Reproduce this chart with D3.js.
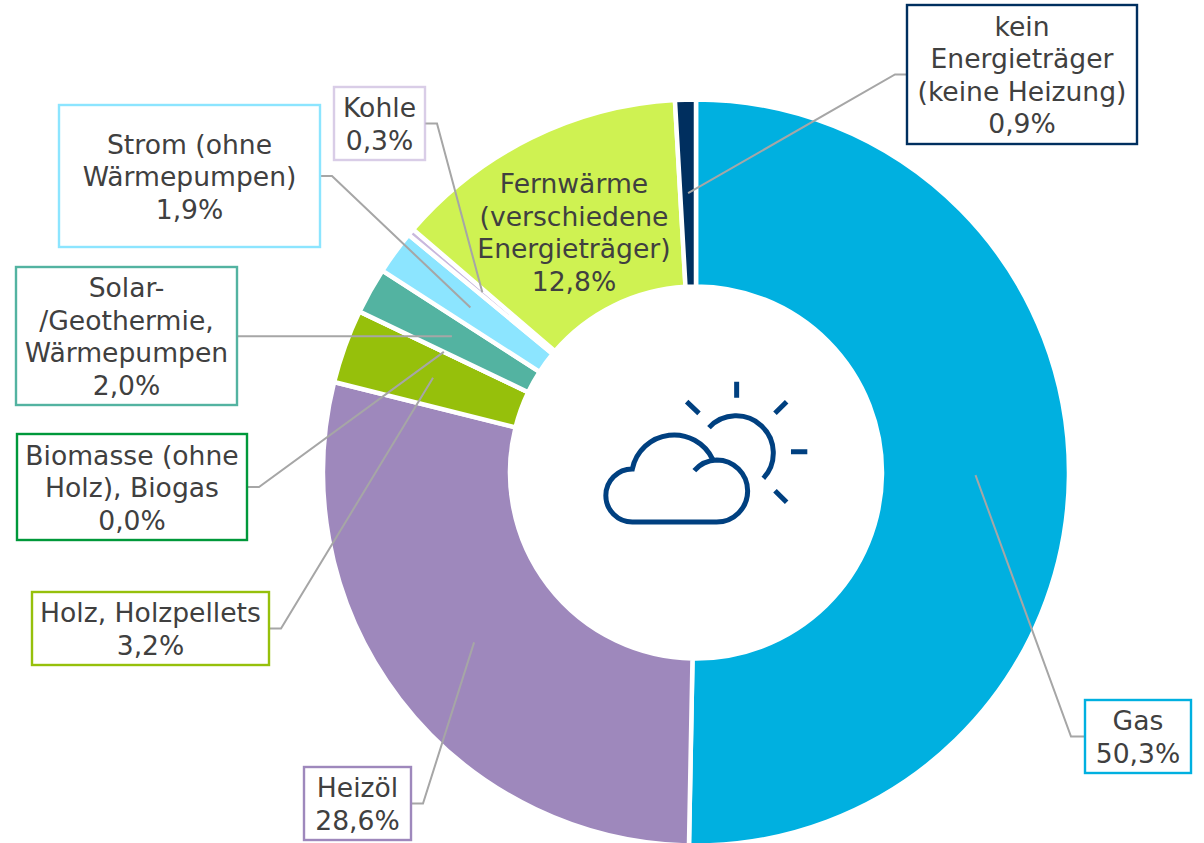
<!DOCTYPE html>
<html lang="de">
<head>
<meta charset="utf-8">
<title>Heizungsarten</title>
<script src="https://cdn.jsdelivr.net/npm/d3@7"></script>
<style>
    html, body { margin: 0; padding: 0; background: #fff; }
    svg { display: block; }
    text { font-family: "DejaVu Sans", Verdana, sans-serif; font-size: 26.6px; fill: #404040; text-anchor: middle; }
</style>
</head>
<body>
<svg id="chart" width="1204" height="843"></svg>
<script>
    // Data
    const categories = ["Gas", "Heizöl", "Holz", "Biomasse", "Solar", "Strom", "Kohle", "Fernwärme", "kein"];
    const values = [50.3, 28.6, 3.2, 0.0, 2.0, 1.9, 0.3, 12.8, 0.9];
    const labelLines = [
        ["Gas"],
        ["Heizöl"],
        ["Holz, Holzpellets"],
        ["Biomasse (ohne", "Holz), Biogas"],
        ["Solar-", "/Geothermie,", "Wärmepumpen"],
        ["Strom (ohne", "Wärmepumpen)"],
        ["Kohle"],
        ["Fernwärme", "(verschiedene", "Energieträger)"],
        ["kein", "Energieträger", "(keine Heizung)"]
    ];
    const colors = ["#00b0e0", "#9e88bc", "#96c00b", "#00983a", "#53b3a1", "#8ce5ff", "#c9b8dd", "#cff252", "#002f5f"];

    // Layout of the label boxes: box corners, and where the leader bends
    const boxes = {
        "Gas": { x0: 1085, y0: 700, x1: 1191, y1: 773, side: "left", bend: 1071 },
        "Heizöl": { x0: 304, y0: 767, x1: 411, y1: 840, side: "right", bend: 423 },
        "Holz": { x0: 32, y0: 592, x1: 269, y1: 665, side: "right", bend: 281 },
        "Biomasse": { x0: 17, y0: 434, x1: 247, y1: 540, side: "right", bend: 259 },
        "Solar": { x0: 16, y0: 267, x1: 237, y1: 405, side: "right", bend: 249, flat: true },
        "Strom": { x0: 59, y0: 105, x1: 320, y1: 247, side: "right", bend: 332 },
        "Kohle": { x0: 334, y0: 87, x1: 425, y1: 160, side: "right", bend: 437, faint: true },
        "kein": { x0: 907, y0: 5, x1: 1137, y1: 144, side: "left", bend: 895 }
    };
    const lineHeight = 32.5;
    const cx = 696, cy = 472.5;
    const outerR = 373, innerR = 186;

    const numFormat = d3.formatLocale({ decimal: ",", thousands: ".", grouping: [3], currency: ["", "€"] }).format(".1f");

    const svg = d3.select("#chart");
    const chart = svg.append("g").attr("transform", `translate(${cx},${cy})`);

    const pie = d3.pie().value(i => values[i]).sort(null).startAngle(0);
    const arc = d3.arc().innerRadius(innerR).outerRadius(outerR);
    const slices = pie(d3.range(values.length));

    chart.selectAll("path.slice")
        .data(slices)
        .join("path")
        .attr("class", "slice")
        .attr("d", arc)
        .attr("fill", d => colors[d.data])
        .attr("stroke", "#fff")
        .attr("stroke-width", 4.5);

    // Leader lines run from the box to the centre of the slice
    const leader = d3.line();
    slices.forEach(d => {
        const box = boxes[categories[d.data]];
        if (!box) return;
        const [px, py] = arc.centroid(d);
        const endX = px + cx, endY = py + cy;
        const startY = box.flat ? endY : (box.y0 + box.y1) / 2;
        const startX = box.side === "left" ? box.x0 : box.x1;
        svg.append("path")
            .attr("class", "leader")
            .attr("d", leader([[startX, startY], [box.bend, startY], [endX, endY]]))
            .attr("fill", "none")
            .attr("stroke", "#a6a6a6")
            .attr("stroke-width", 2);
    });

    // Labels
    function writeLines(lines, x, yMid) {
        lines.forEach((line, i) => {
            svg.append("text")
                .attr("x", x)
                .attr("y", yMid + (i - (lines.length - 1) / 2) * lineHeight + 0.5)
                .attr("dy", "0.36em")
                .text(line);
        });
    }

    slices.forEach(d => {
        const i = d.data;
        const name = categories[i];
        const lines = labelLines[i].concat(numFormat(values[i]) + "%");
        const box = boxes[name];
        if (box) {
            svg.append("rect")
                .attr("x", box.x0)
                .attr("y", box.y0)
                .attr("width", box.x1 - box.x0)
                .attr("height", box.y1 - box.y0)
                .attr("fill", "#fff")
                .attr("stroke", colors[i])
                .attr("stroke-opacity", box.faint ? 0.7 : 1)
                .attr("stroke-width", 2.4);
            writeLines(lines, (box.x0 + box.x1) / 2, (box.y0 + box.y1) / 2);
        } else {
            writeLines(lines, 574, 232);
        }
    });

    // Weather icon in the hole, drawn at 3x and scaled down
    const icon = svg.append("g")
        .attr("transform", "translate(560,350) scale(0.3333)")
        .attr("fill", "none")
        .attr("stroke", "#004080")
        .attr("stroke-width", 15);
    icon.append("path")
        .attr("d", "M458 328 A128 128 0 0 0 217 357 A79 79 0 0 0 217 516 H470 A93 93 0 0 0 470 330 A92 92 0 0 0 403 362");
    icon.append("path")
        .attr("d", "M447 233 A110 110 0 1 1 610 385");
    icon.append("path")
        .attr("d", "M530 95 V143 M645 190 L680 155 M693 305 H742 M645 422 L680 457 M380 155 L417 190");
</script>
</body>
</html>
